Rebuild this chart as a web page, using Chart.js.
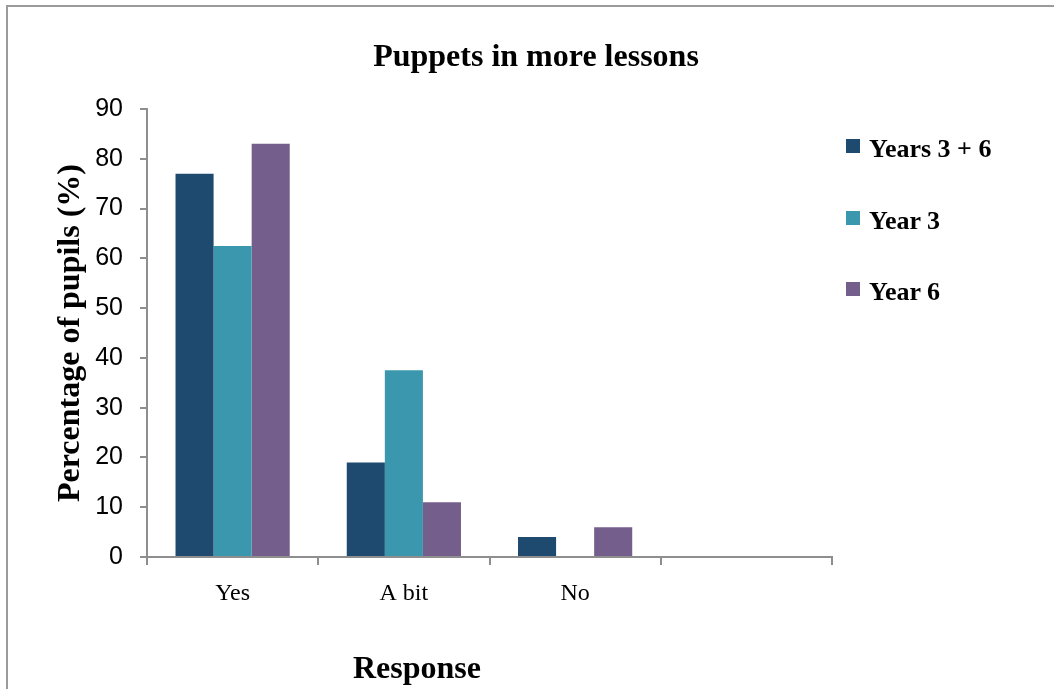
<!DOCTYPE html>
<html>
<head>
<meta charset="utf-8">
<script src="https://cdn.jsdelivr.net/npm/chart.js@4.4.1/dist/chart.umd.min.js"></script>
<style>
  html, body { margin: 0; padding: 0; background: #fff; }
  #wrap { position: relative; width: 1054px; height: 689px; overflow: hidden; background: #fff; }
  #frame { position: absolute; left: 6px; top: 5px; right: -10px; bottom: -10px;
           border-left: 2px solid #9b9b9b; border-top: 2px solid #9b9b9b; }
  #c { position: absolute; left: 0; top: 0; }
  .serif { font-family: 'Liberation Serif', 'Times New Roman', serif; color: #000; white-space: nowrap; line-height: 1; }
  #title { position: absolute; left: 536px; top: 55px; transform: translate(-50%, -50%); font-weight: bold; font-size: 32px; }
  #xtitle { position: absolute; left: 417px; top: 667px; transform: translate(-50%, -50%); font-weight: bold; font-size: 32px; }
  .lg-item { position: absolute; left: 846px; height: 14px; }
  .lg-box { position: absolute; left: 0; top: 0; width: 14px; height: 14px; }
  .lg-text { position: absolute; left: 23px; top: 10px; transform: translateY(-50%); font-weight: bold; font-size: 26px; }
</style>
</head>
<body>
<div id="wrap">
  <div id="frame"></div>
  <canvas id="c" width="1054" height="689"></canvas>
  <div id="title" class="serif">Puppets in more lessons</div>
  <div id="xtitle" class="serif">Response</div>
  <div id="legend"></div>
</div>
<script>
// Survey answers: share of pupils (%) per response, by year group
const categories = ['Yes', 'A bit', 'No', ''];
const seriesNames = ['Years 3 + 6', 'Year 3', 'Year 6'];
const years3and6 = [77, 19, 4, null];
const year3 = [62.5, 37.5, 0, null];
const year6 = [83, 11, 6, null];
const seriesColors = ['#1f4a6f', '#3b97ad', '#745e8c'];
const yTicks = [0, 10, 20, 30, 40, 50, 60, 70, 80, 90];

const serif = "'Liberation Serif', 'Times New Roman', serif";
const sans = "'Liberation Sans', Arial, sans-serif";
const axisGrey = '#8e8e8e';

const seriesValues = [years3and6, year3, year6];
const datasets = seriesNames.map((name, i) => ({
  label: name,
  data: seriesValues[i],
  backgroundColor: seriesColors[i],
  borderWidth: 0,
  categoryPercentage: 0.667,
  barPercentage: 1.0
}));

const chart = new Chart(document.getElementById('c'), {
  type: 'bar',
  data: { labels: categories, datasets },
  options: {
    responsive: false,
    devicePixelRatio: 1,
    animation: false,
    layout: { padding: { top: 109, left: 10, right: 222, bottom: 0 } },
    plugins: {
      legend: { display: false },
      title: { display: false },
      tooltip: { enabled: false }
    },
    scales: {
      x: {
        offset: true,
        grid: { display: true, offset: true, drawOnChartArea: false, drawTicks: true,
                tickLength: 8, color: axisGrey, lineWidth: 2 },
        border: { display: true, color: axisGrey, width: 2 },
        ticks: { color: '#000', font: { family: serif, size: 24 }, padding: 14, maxRotation: 0 },
        afterFit: (scale) => { scale.height = 689 - 557; }
      },
      y: {
        min: 0,
        max: 90,
        afterBuildTicks: (scale) => { scale.ticks = yTicks.map(v => ({ value: v })); },
        grid: { display: true, drawOnChartArea: false, drawTicks: true,
                tickLength: 7, color: axisGrey, lineWidth: 2 },
        border: { display: true, color: axisGrey, width: 2 },
        ticks: { color: '#000', font: { family: sans, size: 25 }, padding: 17 },
        title: {
          display: true,
          text: 'Percentage of pupils (%)',
          color: '#000',
          font: { family: serif, size: 32, weight: 'bold' },
          padding: { top: 42, bottom: 0 }
        },
        afterFit: (scale) => { scale.width = 147 - 10; }
      }
    }
  }
});

// Legend built from the chart's own datasets
const legend = document.getElementById('legend');
chart.data.datasets.forEach((ds, i) => {
  const item = document.createElement('div');
  item.className = 'lg-item';
  item.style.top = (139 + i * 71.5) + 'px';
  const box = document.createElement('div');
  box.className = 'lg-box';
  box.style.background = ds.backgroundColor;
  const text = document.createElement('div');
  text.className = 'lg-text serif';
  text.textContent = ds.label;
  item.appendChild(box);
  item.appendChild(text);
  legend.appendChild(item);
});
</script>
</body>
</html>
